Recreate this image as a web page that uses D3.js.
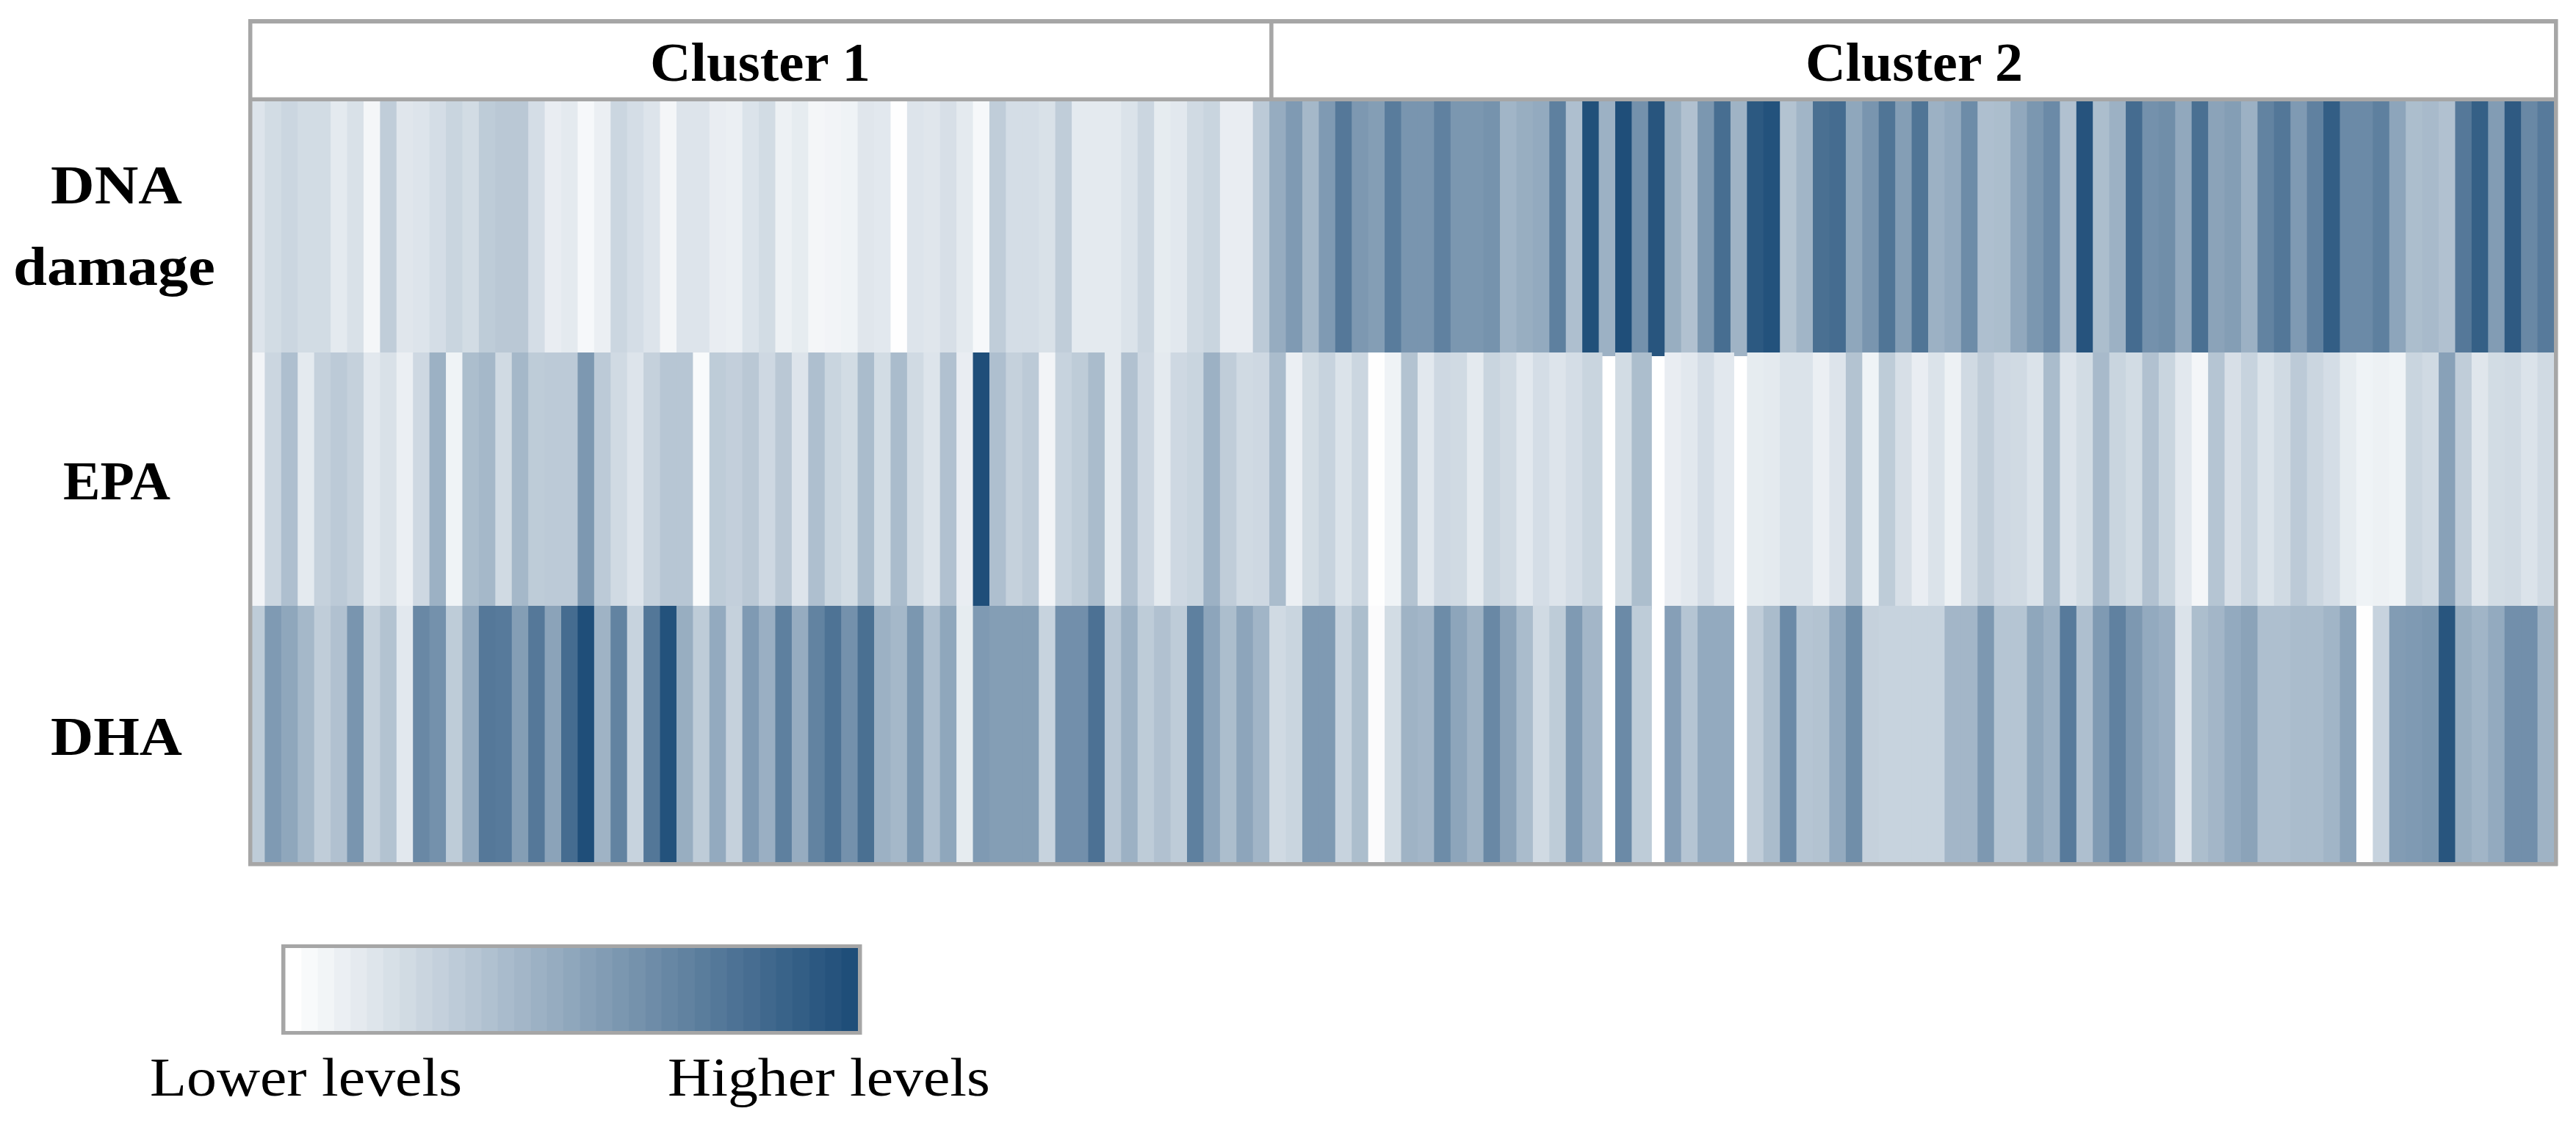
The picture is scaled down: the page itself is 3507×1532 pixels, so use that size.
<!DOCTYPE html>
<html>
<head>
<meta charset="utf-8">
<script src="https://cdnjs.cloudflare.com/ajax/libs/d3/7.8.5/d3.min.js"></script>
<style>html,body{margin:0;padding:0;background:#fff}svg{display:block}</style>
</head>
<body>
<div id="chart"></div>
<script>
// ---- data: level (0-100) per sample, null = no colour drawn ----
const clusters = ["Cluster 1", "Cluster 2"];
const clusterSizes = [62, 78];
const rowNames = ["DNA damage", "EPA", "DHA"];
const lowLabel = "Lower levels";
const highLabel = "Higher levels";

const dnaDamage = [
 15,20,23,20,20,12,17,5,28,14,15,19,24,20,29,31,31,19,10,12,4,9,23,19,15,5,15,15,10,9,16,20,
 8,11,5,6,7,14,13,0.5,15,14,18,12,4,28,19,19,17,28,12,12,12,16,23,11,13,21,24,10,10,30,
 47,57,40,57,76,58,55,74,60,60,71,59,59,61,42,46,48,72,36,99,44,100,62,96,46,35,59,82,43,94,98,34,
 42,81,83,50,60,78,55,78,44,48,65,36,37,49,59,66,35,97,37,44,83,62,64,49,81,52,55,44,70,77,57,71,
 91,66,66,72,51,37,39,35,76,90,56,93,67,75
];
const epa = [
 6,23,36,12,26,30,26,13,17,9,22,44,7,37,40,21,40,29,30,30,58,30,21,15,26,32,32,3,29,27,31,22,
 31,15,36,24,20,38,20,38,21,15,35,10,100,36,26,30,6,25,29,38,12,35,22,12,22,24,44,28,21,22,
 38,9,20,25,16,23,0.5,7,34,13,22,21,12,24,21,13,19,15,19,24,null,20,37,null,10,13,19,13,null,11,12,16,
 16,9,15,34,7,29,18,10,16,8,21,28,22,21,16,38,15,20,39,24,20,35,24,13,5,33,18,25,16,21,30,23,
 19,11,7,8,7,24,21,53,28,14,20,21,16,21
];
const dha = [
 29,57,50,40,28,35,60,26,34,13,67,62,29,48,76,75,55,76,52,83,100,43,70,25,77,98,46,29,48,26,57,45,
 72,47,70,79,62,81,44,40,59,36,50,11,57,55,55,55,25,63,63,80,32,44,29,35,29,72,51,37,51,42,
 21,24,57,57,25,37,2,20,43,41,65,51,43,67,52,38,21,29,57,41,null,66,29,null,54,33,48,48,null,28,38,66,
 33,34,48,64,26,25,25,25,25,41,41,58,33,33,50,44,75,36,57,71,58,48,45,16,37,41,48,52,36,36,38,38,
 42,52,0.5,25,56,57,59,96,46,42,48,63,63,43
];
const rowValues = [dnaDamage, epa, dha];
const legendLevels = d3.range(0, 35);

// ---- layout ----
const W = 3507, H = 1532;
const frame = "#a6a6a6";
const svg = d3.select("#chart").append("svg").attr("width", W).attr("height", H);

const nCells = d3.sum(clusterSizes);
const x = d3.scaleLinear().domain([0, nCells]).range([338, 3477]);
const y = d3.scaleLinear().domain([0, 3]).range([135, 1170]);
const color = d3.scaleLinear().domain([0, 100]).range(["#ffffff", "#1f4e79"]);
const overhang = 5;

// cells, drawn row by row; each one runs slightly under its neighbours
rowValues.forEach((vals, r) => {
  svg.append("g").selectAll("rect").data(vals).join("rect")
    .attr("x", (d, i) => x(i))
    .attr("y", y(r))
    .attr("width", x(1) - x(0) + overhang)
    .attr("height", y(1) - y(0) + overhang)
    .attr("fill", d => d === null ? "none" : color(d));
});

// header and frame
const fw = 5.5;
svg.append("rect").attr("x", 338).attr("y", 29).attr("width", 3144).attr("height", 106).attr("fill", "#fff");
const frameG = svg.append("g").attr("fill", frame);
frameG.append("rect").attr("x", 338).attr("y", 26).attr("width", 3144).attr("height", fw + .5);
frameG.append("rect").attr("x", 338).attr("y", 132.5).attr("width", 3144).attr("height", fw);
frameG.append("rect").attr("x", 338).attr("y", 1174).attr("width", 3144).attr("height", fw);
frameG.append("rect").attr("x", 338).attr("y", 26).attr("width", fw).attr("height", 1153);
frameG.append("rect").attr("x", 3477).attr("y", 26).attr("width", fw).attr("height", 1153);
frameG.append("rect").attr("x", x(clusterSizes[0])).attr("y", 26).attr("width", fw).attr("height", 110);

// texts: [string, left, width, baseline]
const fontFamily = "'Liberation Serif', serif";
function put(str, left, width, base, weight) {
  svg.append("text").text(str)
    .attr("x", left).attr("y", base)
    .attr("font-family", fontFamily)
    .attr("font-size", 74)
    .attr("font-weight", weight)
    .attr("fill", "#000")
    .attr("textLength", width)
    .attr("lengthAdjust", "spacingAndGlyphs");
}
put(clusters[0], 885, 300, 110, "bold");
put(clusters[1], 2458, 296, 110, "bold");
const rowWords = rowNames[0].split(" ");
put(rowWords[0], 69, 179, 277, "bold");
put(rowWords[1], 18, 275, 388, "bold");
put(rowNames[1], 86, 146, 680, "bold");
put(rowNames[2], 69, 179, 1028, "bold");
put(lowLabel, 204, 425, 1492, "normal");
put(highLabel, 909, 439, 1492, "normal");

// legend
const lx = d3.scaleBand().domain(legendLevels).range([388, 1168]);
const lv = d3.scaleLinear().domain([0, legendLevels.length - 1]).range([0, 100]);
svg.append("g").selectAll("rect").data(legendLevels).join("rect")
  .attr("x", d => lx(d))
  .attr("y", 1291)
  .attr("width", lx.bandwidth() + 0.6)
  .attr("height", 113)
  .attr("fill", d => color(lv(d)));
const lg = svg.append("g").attr("fill", frame);
lg.append("rect").attr("x", 383).attr("y", 1286).attr("width", 790).attr("height", 5);
lg.append("rect").attr("x", 383).attr("y", 1404).attr("width", 790).attr("height", 5);
lg.append("rect").attr("x", 383).attr("y", 1286).attr("width", 5.5).attr("height", 123);
lg.append("rect").attr("x", 1168).attr("y", 1286).attr("width", 5.5).attr("height", 123);
</script>
</body>
</html>
